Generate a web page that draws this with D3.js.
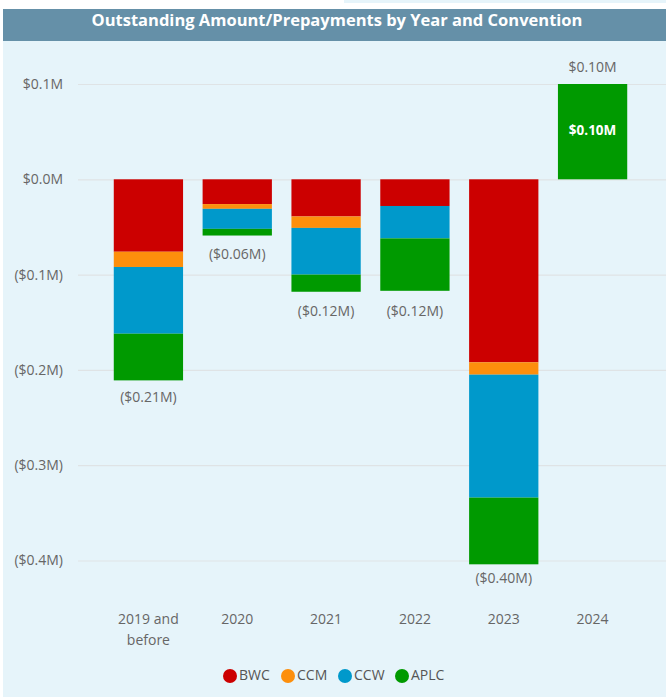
<!DOCTYPE html>
<html>
<head>
<meta charset="utf-8">
<script src="https://cdn.jsdelivr.net/npm/d3@7"></script>
<style>
  body { margin: 0; background: #fff; }
  text { font-family: "Open Sans", "Noto Sans", sans-serif; }
</style>
</head>
<body>
<div id="chart"></div>
<script>
// data (millions of dollars)
var years = ["2019 and before", "2020", "2021", "2022", "2023", "2024"];
var conventions = ["BWC", "CCM", "CCW", "APLC"];
var bwc  = [-0.076, -0.026, -0.039, -0.028, -0.192, 0];
var ccm  = [-0.016, -0.005, -0.012, 0, -0.013, 0];
var ccw  = [-0.070, -0.021, -0.049, -0.034, -0.129, 0];
var aplc = [-0.049, -0.007, -0.018, -0.055, -0.070, 0.100];
var totals = [-0.21, -0.06, -0.12, -0.12, -0.40, 0.10];
var yTicks = [0.1, 0, -0.1, -0.2, -0.3, -0.4];
var colors = ["#cc0000", "#fd8f0c", "#0099cb", "#009a00"];

var W = 666, H = 699;
var svg = d3.select("#chart").append("svg").attr("width", W).attr("height", H);

// panel + title band
svg.append("rect").attr("x", 3).attr("y", 9).attr("width", W - 3).attr("height", 688).attr("fill", "#e6f4fa");
svg.append("rect").attr("x", 344).attr("y", 0).attr("width", W - 344).attr("height", 3).attr("fill", "#e6f4fa");
svg.append("rect").attr("x", 3).attr("y", 9).attr("width", W - 3).attr("height", 32).attr("fill", "#6590a8");
svg.append("text").attr("x", 337).attr("y", 22).attr("text-anchor", "middle").attr("dominant-baseline", "middle")
  .attr("fill", "#fff").attr("font-weight", "bold").attr("font-size", 16.5)
  .text("Outstanding Amount/Prepayments by Year and Convention");

var x = d3.scaleBand().domain(years).range([104, 637]).paddingInner(0.22).paddingOuter(0.11);
var y = d3.scaleLinear().domain([-0.4, 0.1]).range([560.5, 84]);

// grid + y labels
var yAxis = d3.axisLeft(y).tickValues(yTicks).tickSize(-(W - 78)).tickFormat(function(d){
  var s = "$" + Math.abs(d).toFixed(1) + "M";
  return d < 0 ? "(" + s + ")" : s;
});
var gy = svg.append("g").attr("transform", "translate(78,0)").call(yAxis);
gy.select(".domain").remove();
gy.selectAll(".tick line").attr("stroke", "#dfe3e5").attr("stroke-width", 1.2);
gy.selectAll(".tick text").attr("x", -15).attr("fill", "#666").attr("font-size", 14);

// stacked segments
var series = [bwc, ccm, ccw, aplc];
var bars = svg.append("g");
years.forEach(function(yr, i){
  var neg = 0, pos = 0;
  series.forEach(function(s, k){
    var v = s[i];
    if (!v) return;
    var y0, y1;
    if (v < 0) { y0 = neg; y1 = neg + v; neg = y1; }
    else { y0 = pos; y1 = pos + v; pos = y1; }
    bars.append("rect")
      .attr("x", x(yr)).attr("width", x.bandwidth())
      .attr("y", y(Math.max(y0, y1))).attr("height", Math.abs(y(y0) - y(y1)))
      .attr("fill", colors[k]);
    if (v > 0.05) {
      bars.append("text").attr("x", x(yr) + x.bandwidth() / 2).attr("y", y((y0 + y1) / 2))
        .attr("text-anchor", "middle").attr("dominant-baseline", "middle")
        .attr("fill", "#fff").attr("font-size", 13.5).attr("font-weight", "bold")
        .text("$" + v.toFixed(2) + "M");
    }
  });
});

// totals
svg.append("g").selectAll("text").data(totals).enter().append("text")
  .attr("x", function(d, i){ return x(years[i]) + x.bandwidth() / 2; })
  .attr("y", function(d){ return d < 0 ? y(d) + 19 : y(d) - 16; })
  .attr("text-anchor", "middle").attr("dominant-baseline", "middle")
  .attr("fill", "#666").attr("font-size", 14)
  .text(function(d){
    var s = "$" + Math.abs(d).toFixed(2) + "M";
    return d < 0 ? "(" + s + ")" : s;
  });

// x labels
var xl = svg.append("g").selectAll("text").data(years).enter().append("text")
  .attr("x", function(d){ return x(d) + x.bandwidth() / 2; })
  .attr("y", 620).attr("text-anchor", "middle").attr("dominant-baseline", "middle")
  .attr("fill", "#666").attr("font-size", 14);
xl.each(function(d){
  var t = d3.select(this);
  var parts = d === "2019 and before" ? ["2019 and", "before"] : [d];
  parts.forEach(function(p, j){
    t.append("tspan").attr("x", t.attr("x")).attr("dy", j ? 21 : 0).text(p);
  });
});

// legend
var legX = [230, 288, 345, 402];
var leg = svg.append("g").selectAll("g").data(conventions).enter().append("g")
  .attr("transform", function(d, i){ return "translate(" + legX[i] + ",676)"; });
leg.append("circle").attr("r", 7).attr("fill", function(d, i){ return colors[i]; });
leg.append("text").attr("x", 9).attr("dominant-baseline", "middle")
  .attr("fill", "#555").attr("font-size", 14).text(function(d){ return d; });
</script>
</body>
</html>
